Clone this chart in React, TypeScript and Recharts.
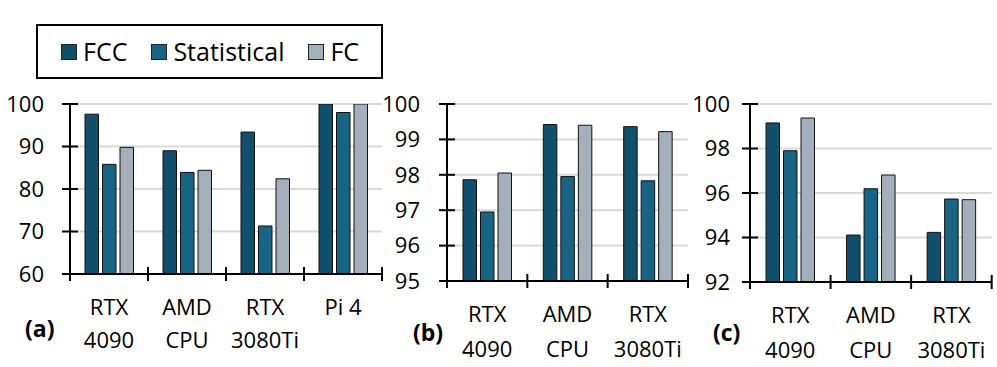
import React from 'react';
import { BarChart, Bar, XAxis, YAxis, CartesianGrid } from 'recharts';

const seriesNames = ['FCC', 'Statistical', 'FC'];
const seriesColors = ['#124f6b', '#196385', '#a3afba'];

const catsA = ['RTX\n4090', 'AMD\nCPU', 'RTX\n3080Ti', 'Pi 4'];
const fccA = [97.6, 89.0, 93.4, 100.0];
const statA = [85.8, 83.9, 71.3, 98.0];
const fcA = [89.8, 84.4, 82.4, 100.0];
const ticksA = [60, 70, 80, 90, 100];

const catsB = ['RTX\n4090', 'AMD\nCPU', 'RTX\n3080Ti'];
const fccB = [97.86, 99.42, 99.36];
const statB = [96.95, 97.95, 97.83];
const fcB = [98.05, 99.4, 99.22];
const ticksB = [95, 96, 97, 98, 99, 100];

const catsC = ['RTX\n4090', 'AMD\nCPU', 'RTX\n3080Ti'];
const fccC = [99.15, 94.11, 94.23];
const statC = [97.9, 96.19, 95.73];
const fcC = [99.37, 96.81, 95.7];
const ticksC = [92, 94, 96, 98, 100];

const FONT = "'Open Sans', sans-serif";

function buildRows(cats: string[], a: number[], b: number[], c: number[]) {
  return cats.map((cat, i) => ({ cat, FCC: a[i], Statistical: b[i], FC: c[i] }));
}

function makeYTick(axisX: number, gap: number) {
  return (props: any) => {
    const { y, payload } = props;
    return (
      <g>
        <path d={`M${axisX - 8},${y}H${axisX + 8}`} stroke="#000" strokeWidth={2} fill="none" />
        <text x={axisX - gap} y={y} dy="0.35em" textAnchor="end" fontSize={22} fill="#000" fontFamily={FONT}>
          {payload.value}
        </text>
      </g>
    );
  };
}

function makeXTick(axisY: number, bw: number, n: number, lineGap: number) {
  return (props: any) => {
    const { x, index, payload } = props;
    const lines = String(payload.value).split('\n');
    return (
      <g>
        <path d={`M${x - bw / 2},${axisY - 7}V${axisY + 7}`} stroke="#000" strokeWidth={2} fill="none" />
        {index === n - 1 && (
          <path d={`M${x + bw / 2},${axisY - 7}V${axisY + 7}`} stroke="#000" strokeWidth={2} fill="none" />
        )}
        <text textAnchor="middle" fontSize={22} fill="#000" fontFamily={FONT}>
          {lines.map((l, i) => (
            <tspan key={i} x={x} y={axisY + 41 + i * lineGap}>
              {l}
            </tspan>
          ))}
        </text>
      </g>
    );
  };
}

type PanelProps = {
  left: number;
  width: number;
  yW: number;
  mr: number;
  mb: number;
  gap: number;
  lineGap: number;
  rows: any[];
  domain: [number, number];
  ticks: number[];
};

function Panel({ left, width, yW, mr, mb, gap, lineGap, rows, domain, ticks }: PanelProps) {
  const height = 367;
  const top = 104;
  const axisY = height - mb;
  const plotW = width - yW - mr;
  const bw = plotW / rows.length;
  return (
    <div style={{ position: 'absolute', left, top: 0 }}>
      <BarChart
        width={width}
        height={height}
        data={rows}
        margin={{ top, right: mr, bottom: 0, left: 0 }}
        barSize={13.5}
        barGap={4}
      >
        <CartesianGrid horizontal vertical={false} stroke="#d9d9d9" strokeWidth={2} />
        {seriesNames.map((s, i) => (
          <Bar key={s} dataKey={s} fill={seriesColors[i]} stroke="#111" strokeWidth={1} isAnimationActive={false} />
        ))}
        <XAxis
          dataKey="cat"
          interval={0}
          stroke="#000"
          axisLine={{ stroke: '#000', strokeWidth: 2 }}
          tickLine={false}
          tick={makeXTick(axisY, bw, rows.length, lineGap)}
          height={mb}
        />
        <YAxis
          width={yW}
          domain={domain}
          ticks={ticks}
          allowDataOverflow
          interval={0}
          stroke="#000"
          axisLine={{ stroke: '#000', strokeWidth: 2 }}
          tickLine={false}
          tick={makeYTick(yW, gap)}
        />
      </BarChart>
    </div>
  );
}

export default function App() {
  return (
    <div style={{ position: 'absolute', left: 0, top: 0, width: 997, height: 367, background: '#fff', fontFamily: FONT }}>
      <Panel left={0} width={400} yW={70} mr={18} mb={93} gap={26} lineGap={33} rows={buildRows(catsA, fccA, statA, fcA)} domain={[60, 100]} ticks={ticksA} />
      <Panel left={370} width={330} yW={77} mr={12} mb={86} gap={27} lineGap={35} rows={buildRows(catsB, fccB, statB, fcB)} domain={[95, 100]} ticks={ticksB} />
      <Panel left={680} width={317} yW={70} mr={5.3} mb={85} gap={20} lineGap={35} rows={buildRows(catsC, fccC, statC, fcC)} domain={[92, 100]} ticks={ticksC} />
      <div
        style={{
          position: 'absolute',
          left: 36,
          top: 24,
          width: 347,
          height: 55,
          border: '2px solid #000',
          boxSizing: 'border-box',
          display: 'flex',
          alignItems: 'center',
          paddingLeft: 23,
          fontFamily: FONT,
          fontSize: 25,
          lineHeight: 1,
          color: '#000',
        }}
      >
        {seriesNames.map((s, i) => (
          <div key={s} style={{ display: 'flex', alignItems: 'center', marginRight: 24 }}>
            <span
              style={{
                display: 'inline-block',
                width: 16,
                height: 16,
                background: seriesColors[i],
                border: '1px solid #222',
                boxSizing: 'border-box',
                marginRight: 6,
              }}
            />
            <span>{s}</span>
          </div>
        ))}
      </div>
      <svg width={997} height={367} style={{ position: 'absolute', left: 0, top: 0, pointerEvents: 'none' }}>
        <text x={25} y={337} fontSize={23} fontWeight="bold" fontFamily={FONT} fill="#000">(a)</text>
        <text x={413} y={341} fontSize={23} fontWeight="bold" fontFamily={FONT} fill="#000">(b)</text>
        <text x={713} y={341} fontSize={23} fontWeight="bold" fontFamily={FONT} fill="#000">(c)</text>
      </svg>
    </div>
  );
}
